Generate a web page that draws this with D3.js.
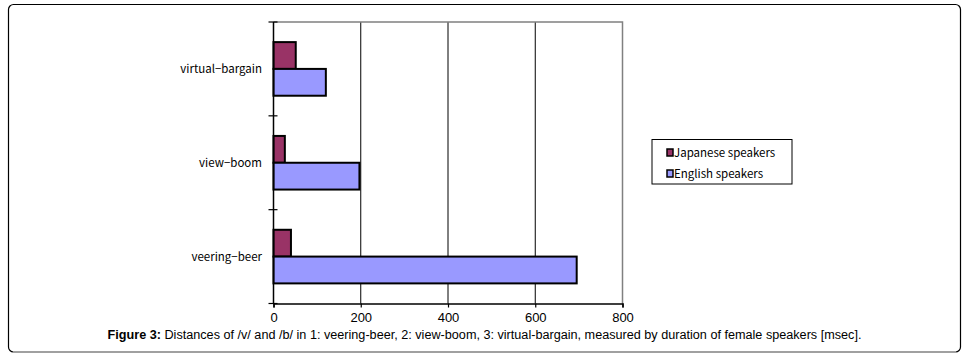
<!DOCTYPE html>
<html>
<head>
<meta charset="utf-8">
<script src="https://cdn.jsdelivr.net/npm/d3@7"></script>
<style>
  body { margin: 0; background: #fff; }
  svg { display: block; }
</style>
</head>
<body>
<div id="chart"></div>
<script>
// categories top to bottom, as shown
const categories = ["virtual\u2212bargain", "view\u2212boom", "veering\u2212beer"];
const seriesNames = ["Japanese speakers", "English speakers"];
const japanese = [51, 26, 40];
const english = [120, 197, 695];
const xTicks = [0, 200, 400, 600, 800];

const W = 966, H = 359;
const plot = { left: 273.5, top: 22, right: 622.5, bottom: 303.5 };

const svg = d3.select("#chart").append("svg")
  .attr("width", W).attr("height", H);

// outer frame: black top/left/right, grey bottom
svg.append("rect")
  .attr("x", 8.5).attr("y", 4.5).attr("width", 952).attr("height", 347.5)
  .attr("rx", 5).attr("fill", "#fff").attr("stroke", "#000").attr("stroke-width", 1.2);
svg.append("line")
  .attr("x1", 13).attr("x2", 956).attr("y1", 352).attr("y2", 352)
  .attr("stroke", "#a0a0a0").attr("stroke-width", 2);

const x = d3.scaleLinear().domain([0, 800]).range([plot.left, plot.right]);
const y = d3.scaleBand().domain(categories).range([plot.top, plot.bottom])
  .paddingInner(0).paddingOuter(0);
const ySub = d3.scaleBand().domain(seriesNames).range([0, y.bandwidth()])
  .paddingOuter(0.75).paddingInner(0);
const color = d3.scaleOrdinal().domain(seriesNames).range(["#993366", "#9999ff"]);

// grid lines
svg.append("g").selectAll("line")
  .data(xTicks.filter(d => d > 0 && d < 800))
  .join("line")
  .attr("x1", d => x(d)).attr("x2", d => x(d))
  .attr("y1", plot.top).attr("y2", plot.bottom)
  .attr("stroke", "#000").attr("stroke-width", 1);

// grey plot border top and right
svg.append("path")
  .attr("d", `M${plot.left},${plot.top}H${plot.right}V${plot.bottom}`)
  .attr("fill", "none").attr("stroke", "#808080").attr("stroke-width", 1.5);

// bars
const rows = categories.map((c, i) => ({ cat: c, values: [
  { key: seriesNames[0], value: japanese[i] },
  { key: seriesNames[1], value: english[i] }
] }));

svg.append("g").selectAll("g")
  .data(rows)
  .join("g")
  .attr("transform", d => `translate(0,${y(d.cat)})`)
  .selectAll("rect")
  .data(d => d.values)
  .join("rect")
  .attr("x", x(0))
  .attr("y", d => ySub(d.key))
  .attr("width", d => x(d.value) - x(0))
  .attr("height", ySub.bandwidth())
  .attr("fill", d => color(d.key))
  .attr("stroke", "#000").attr("stroke-width", 2);

// x axis
const xAxis = svg.append("g")
  .attr("transform", `translate(0,${plot.bottom})`)
  .call(d3.axisBottom(x).tickValues(xTicks).tickSize(4).tickPadding(5));
xAxis.select(".domain").attr("stroke", "#000").attr("stroke-width", 1.5);
xAxis.selectAll(".tick line").attr("stroke", "#000").attr("stroke-width", 1.2);
xAxis.selectAll("text")
  .attr("font-family", "Liberation Sans, Arial, sans-serif")
  .attr("font-size", 13).attr("fill", "#000");

// y axis with ticks at band boundaries
svg.append("line")
  .attr("x1", plot.left).attr("x2", plot.left)
  .attr("y1", plot.top).attr("y2", plot.bottom)
  .attr("stroke", "#000").attr("stroke-width", 1.5);
const bounds = categories.map(c => y(c)).concat([plot.bottom]);
svg.append("g").selectAll("line")
  .data(bounds)
  .join("line")
  .attr("x1", plot.left - 5).attr("x2", plot.left + 4)
  .attr("y1", d => d).attr("y2", d => d)
  .attr("stroke", "#000").attr("stroke-width", 1.2);

svg.append("g").selectAll("text")
  .data(categories)
  .join("text")
  .attr("x", 262)
  .attr("y", d => y(d) + y.bandwidth() / 2)
  .attr("dy", "0.35em")
  .attr("text-anchor", "end")
  .attr("font-family", "Noto Sans CJK JP, sans-serif")
  .attr("font-size", 11.5)
  .attr("fill", "#000")
  .text(d => d);

// legend
const lg = svg.append("g").attr("transform", "translate(652,139.5)");
lg.append("rect")
  .attr("width", 140).attr("height", 44.5)
  .attr("fill", "#fff").attr("stroke", "#000").attr("stroke-width", 1);
const li = lg.selectAll("g.item")
  .data(seriesNames)
  .join("g")
  .attr("class", "item")
  .attr("transform", (d, i) => `translate(15,${13 + i * 21})`);
li.append("rect")
  .attr("x", 0).attr("y", -3.5).attr("width", 6).attr("height", 7)
  .attr("fill", d => color(d)).attr("stroke", "#000").attr("stroke-width", 1.5);
li.append("text")
  .attr("x", 7).attr("dy", "0.35em")
  .attr("font-family", "Noto Sans CJK JP, sans-serif")
  .attr("font-size", 11.5).attr("fill", "#000")
  .text(d => d);

// caption
const cap = svg.append("text")
  .attr("x", 484.5).attr("y", 339)
  .attr("text-anchor", "middle")
  .attr("font-family", "Liberation Sans, Arial, sans-serif")
  .attr("font-size", 12.65).attr("fill", "#000");
cap.append("tspan").attr("font-weight", "bold").text("Figure 3:");
cap.append("tspan").text(" Distances of /v/ and /b/ in 1: veering-beer, 2: view-boom, 3: virtual-bargain, measured by duration of female speakers [msec].");
</script>
</body>
</html>
